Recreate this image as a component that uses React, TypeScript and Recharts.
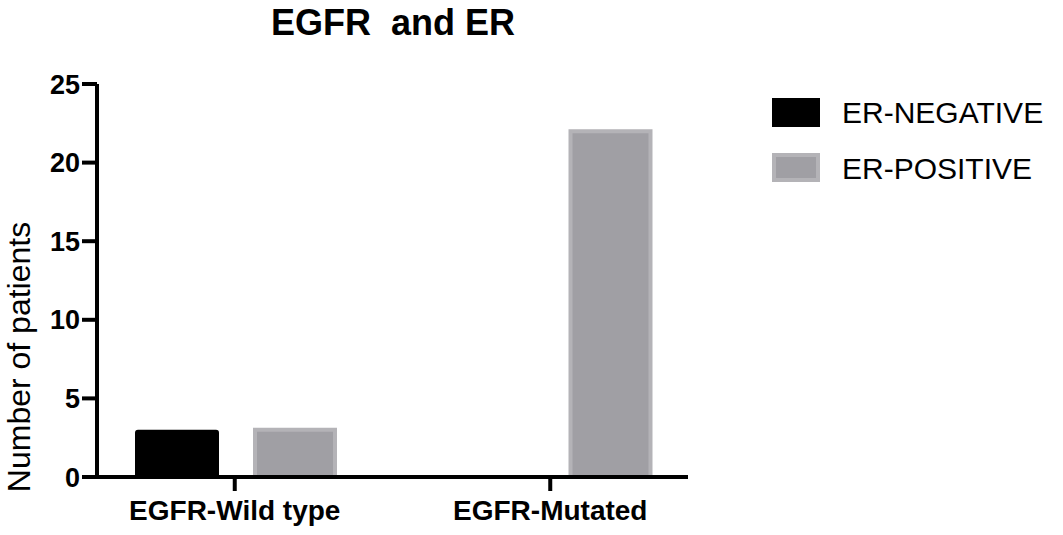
import React from 'react';
import { BarChart, Bar, XAxis, YAxis } from 'recharts';

const categories = ['EGFR-Wild type', 'EGFR-Mutated'];
const erNegative = [3, 0];
const erPositive = [3, 22];
const yTicks = [0, 5, 10, 15, 20, 25];
const seriesNames = ['ER-NEGATIVE', 'ER-POSITIVE'];

const data = categories.map((c, i) => ({ name: c, neg: erNegative[i], pos: erPositive[i] }));

const FONT = '"Liberation Sans", Arial, Helvetica, sans-serif';
const GRAY_FILL = '#a09fa4';
const GRAY_STROKE = '#b4b3b7';

export default function App() {
  return (
    <div style={{ position: 'absolute', left: 0, top: 0, width: 1063, height: 535, background: '#fff' }}>
      <svg width={1063} height={535} style={{ position: 'absolute', left: 0, top: 0 }}>
        <text x={393} y={35} textAnchor="middle" fontFamily={FONT} fontWeight="bold" fontSize={36} fill="#000" style={{ whiteSpace: 'pre' }}>
          {'EGFR  and ER'}
        </text>
        <text
          transform="translate(30,357) rotate(-90)"
          textAnchor="middle"
          fontFamily={FONT}
          fontSize={32}
          fill="#000"
        >
          Number of patients
        </text>
        <g transform="translate(772,98)">
          <rect x={0} y={0} width={48} height={29} fill="#000" />
          <text x={70} y={14.5} dy="0.36em" fontFamily={FONT} fontSize={30} fill="#000">{seriesNames[0]}</text>
          <rect x={2} y={57} width={44} height={25} fill={GRAY_FILL} stroke={GRAY_STROKE} strokeWidth={4} />
          <text x={70} y={70} dy="0.36em" fontFamily={FONT} fontSize={30} fill="#000">{seriesNames[1]}</text>
        </g>
      </svg>
      <BarChart
        width={1063}
        height={535}
        data={data}
        margin={{ top: 84, left: 37, right: 375, bottom: 8 }}
        barGap={36}
        barSize={84}
        style={{ position: 'absolute', left: 0, top: 0 }}
      >
        <XAxis
          dataKey="name"
          padding={{ left: -20, right: -20 }}
          height={50}
          axisLine={{ stroke: '#000', strokeWidth: 4 }}
          tickLine={{ stroke: '#000', strokeWidth: 4 }}
          tickSize={14}
          tickMargin={9}
          tick={{ fill: '#000', fontSize: 28, fontWeight: 'bold', fontFamily: FONT }}
        />
        <YAxis
          width={60}
          domain={[0, 25]}
          ticks={yTicks}
          interval={0}
          axisLine={{ stroke: '#000', strokeWidth: 4 }}
          tickLine={{ stroke: '#000', strokeWidth: 4 }}
          tickSize={15}
          tickMargin={2}
          tick={{ fill: '#000', fontSize: 27, fontWeight: 'bold', fontFamily: FONT }}
        />
        <Bar dataKey="neg" name={seriesNames[0]} fill="#000" radius={[3, 3, 0, 0]} isAnimationActive={false} />
        <Bar dataKey="pos" name={seriesNames[1]} barSize={80} fill={GRAY_FILL} stroke={GRAY_STROKE} strokeWidth={4} isAnimationActive={false} />
      </BarChart>
    </div>
  );
}
